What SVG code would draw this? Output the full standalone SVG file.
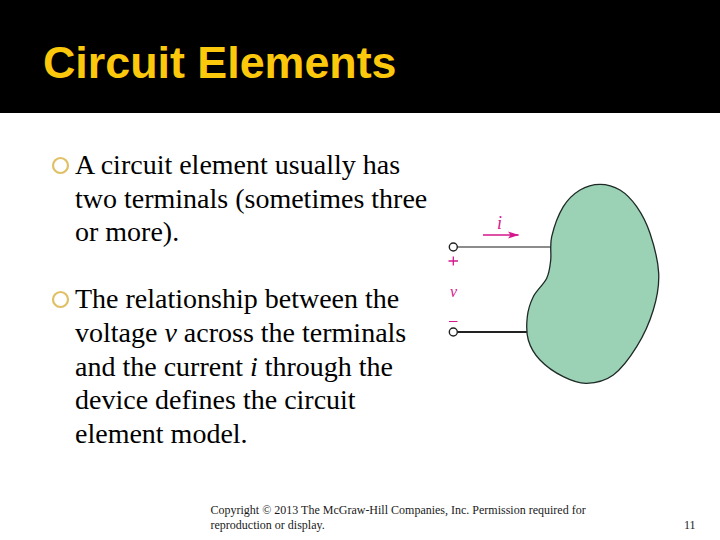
<svg xmlns="http://www.w3.org/2000/svg" width="720" height="540" viewBox="0 0 720 540">
<style>
.b{font-family:"Liberation Serif","Times New Roman",serif;font-size:28px;fill:#000}
.f{font-family:"Liberation Serif","Times New Roman",serif;font-size:12px;fill:#1a1a1a}
.m{fill:#d5168c;font-family:"Liberation Serif",serif;font-style:italic}
.bu{fill:none;stroke:#dfc064;stroke-width:2.2}
.t{fill:#fff;stroke:#222;stroke-width:1.4}
</style>
<defs><marker id="ah" markerWidth="12" markerHeight="8" refX="10.500" refY="4" orient="auto" markerUnits="userSpaceOnUse"><path d="M0 .5L11 4L0 7.500L2.500 4Z" fill="#d5168c"/></marker></defs>
<rect width="720" height="540" fill="#fff"/>
<rect id="titlebar" width="720" height="113" fill="#000"/>
<text x="43" y="77.700" font-family="'Liberation Sans',Arial,sans-serif" font-size="44.800" font-weight="700" fill="#fcc80c">Circuit Elements</text>
<g id="bullet1"><circle class="bu" cx="60.500" cy="165.500" r="7.500"/>
<text class="b" x="75" y="174">A circuit element usually has</text>
<text class="b" x="75" y="208">two terminals (sometimes three</text>
<text class="b" x="75" y="241">or more).</text></g>
<g id="bullet2"><circle class="bu" cx="60.500" cy="299.500" r="7.500"/>
<text class="b" x="75" y="308">The relationship between the</text>
<text class="b" x="75" y="342">voltage <tspan font-style="italic">v</tspan> across the terminals</text>
<text class="b" x="75" y="376">and the current <tspan font-style="italic">i</tspan> through the</text>
<text class="b" x="75" y="409">device defines the circuit</text>
<text class="b" x="75" y="443">element model.</text></g>
<g id="connectors">
<path d="M457 247H552" stroke="#666" stroke-width="1.600" fill="none"/>
<path d="M457 332H528" stroke="#222" stroke-width="1.800" fill="none"/>
<path d="M483 235H518.500" stroke="#d5168c" stroke-width="1.500" fill="none" marker-end="url(#ah)"/>
</g>
<g id="element"><path d="M551.700 236.700C553.800 227.800 558.600 214.500 563.300 206.700S573.900 193.700 580 190S593.300 184.300 600 184.300S613.900 186.300 620 190S631.700 199.500 636.700 206.700S646.300 222.200 650 233.300S658.100 260.500 658.700 273.300S657 297.800 653.300 310S643.400 335.900 636.700 346.700S621.600 368.900 613.300 375S595 383 586.700 383.300S571.100 380.600 563.300 376.700S545.800 366.100 540 360S530.400 347.200 528.300 340S526.500 323.900 527.300 316.700S530.100 303.100 533.300 296.700S543.800 284.400 546.700 278.300S549.900 266.900 550.700 260S549.600 245.600 551.700 236.700Z" fill="#9bd1b5" stroke="#1f2a26" stroke-width="1.300"/></g>
<g id="terminal-plus"><circle class="t" cx="453.300" cy="247" r="4"/>
<path d="M448.500 261H458M453.300 256.500V265.500" stroke="#d5168c" stroke-width="1.300" fill="none"/></g>
<g id="terminal-minus"><circle class="t" cx="453.300" cy="332" r="4"/>
<path d="M449 321.500H457.500" stroke="#d5168c" stroke-width="1" fill="none"/></g>
<text class="m" x="497" y="229" font-size="18">i</text>
<text class="m" x="450" y="297" font-size="16">v</text>
<g id="footer">
<text class="f" x="210.500" y="514">Copyright © 2013 The McGraw-Hill Companies, Inc. Permission required for</text>
<text class="f" x="210.500" y="529">reproduction or display.</text>
<text class="f" x="684" y="529">11</text></g>
</svg>
